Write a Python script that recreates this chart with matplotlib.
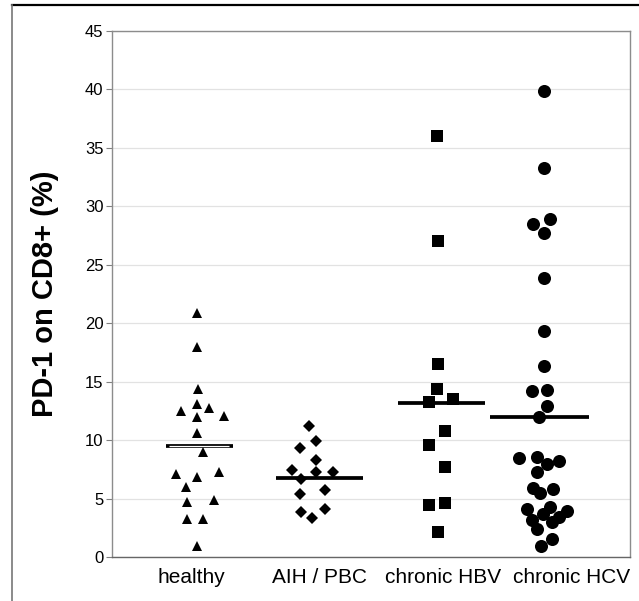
import numpy as np
import matplotlib.pyplot as plt
from matplotlib.lines import Line2D

plt.rcParams['font.family'] = ['Liberation Sans', 'DejaVu Sans']

# Grupos y posiciones
grupos = ['healthy', 'AIH / PBC', 'chronic HBV', 'chronic HCV']
centros = [1.038, 2.072, 3.132, 4.053]
pos_etiquetas = [0.995, 2.107, 3.176, 4.288]

# PD-1 on CD8+ (%) por grupo
healthy = [20.85, 17.99, 14.37, 13.09, 12.52, 12.77, 11.95, 12.06, 10.58, 8.96,
           7.10, 6.82, 7.30, 6.02, 4.73, 4.88, 3.28, 3.28, 0.97]
aih_pbc = [11.21, 9.95, 9.35, 8.30, 7.44, 7.24, 7.30, 6.67, 5.73, 5.39,
           3.88, 3.31, 4.08]
hbv = [36.01, 27.06, 16.51, 14.34, 13.23, 13.49, 10.78, 9.58, 7.73, 4.45,
       4.59, 2.17]
hcv = [39.89, 33.30, 28.49, 28.91, 27.74, 23.84, 19.36, 16.34, 14.23, 14.29,
       12.94, 11.95, 8.44, 8.58, 7.96, 8.21, 7.30, 5.93, 5.50, 5.79,
       4.08, 4.25, 3.96, 3.17, 3.68, 3.45, 3.02, 2.37, 1.51, 0.94]

# desplazamiento horizontal de cada punto dentro del grupo
healthy_dx = [0, 0, 0.01, 0, -0.139, 0.104, 0, 0.237, 0, 0.058,
              -0.182, 0, 0.194, -0.09, -0.087, 0.148, -0.084, 0.058, 0]
aih_dx = [-0.058, 0, -0.139, 0, -0.211, 0, 0.145, -0.133, 0.078, -0.139,
          -0.133, -0.032, 0.078]
hbv_dx = [-0.012, 0, 0, -0.012, -0.075, 0.133, 0.064, -0.075, 0.064, -0.075,
          0.064, 0]
hcv_dx = [0, 0, -0.093, 0.052, 0, 0, 0, 0, -0.107, 0.029,
          0.029, -0.041, -0.215, -0.064, 0.029, 0.133, -0.064, -0.093, -0.035, 0.075,
          -0.145, 0.052, 0.197, -0.107, -0.012, 0.133, 0.067, -0.064, 0.067, -0.029]

medianas = [9.52, 6.79, 13.2, 12.0]
ancho_mediana = [(0.769, 1.351), (1.725, 2.481), (2.785, 3.541), (3.584, 4.444)]

valores = [healthy, aih_pbc, hbv, hcv]
desplaz = [healthy_dx, aih_dx, hbv_dx, hcv_dx]
marcadores = ['^', 'D', 's', 'o']
tamanos = [7.6, 6.6, 8.3, 9.4]

fig = plt.figure(figsize=(6.39, 6.01), dpi=100)
ax = fig.add_axes([0.175, 0.0732, 0.811, 0.8752])

# medianas
for i, m in enumerate(medianas):
    x0, x1 = ancho_mediana[i]
    ax.plot([x0, x1], [m, m], color='black', lw=2.7, solid_capstyle='butt', zorder=2)
    if i == 0:
        ax.plot([x0 + 0.03, x1 - 0.03], [m, m], color='white', lw=0.9,
                solid_capstyle='butt', zorder=2)

# puntos
for i in range(4):
    x = centros[i] + np.array(desplaz[i])
    ax.plot(x, valores[i], linestyle='none', marker=marcadores[i],
            markersize=tamanos[i], color='black', markeredgewidth=0, zorder=3)

ax.set_xlim(0.3, 4.8)
ax.set_ylim(0, 45)
ax.set_yticks(np.arange(0, 46, 5))
ax.set_xticks(pos_etiquetas, grupos)
ax.tick_params(axis='x', length=0, labelsize=15, pad=8)
ax.tick_params(axis='y', length=4, width=0.8, color='#808080', labelsize=12, pad=2)
ax.yaxis.grid(True, color='#e2e2e2', lw=0.9)
ax.set_axisbelow(True)
for lado in ['top', 'right', 'left']:
    ax.spines[lado].set_color('#8c8c8c')
    ax.spines[lado].set_linewidth(1.0)
ax.spines['bottom'].set_color('#666666')
ax.spines['bottom'].set_linewidth(1.0)

ax.set_ylabel('PD-1 on CD8+ (%)', fontsize=21, fontweight='bold', va='center')
ax.yaxis.set_label_coords(-0.129, 0.5)

# marco de la figura
fig.add_artist(Line2D([12 / 639, 1], [1 - 5 / 601, 1 - 5 / 601], color='black', lw=1.6))
fig.add_artist(Line2D([12 / 639, 12 / 639], [0, 1 - 5 / 601], color='#777777', lw=1.2))

fig.savefig('out.png', dpi=100)
